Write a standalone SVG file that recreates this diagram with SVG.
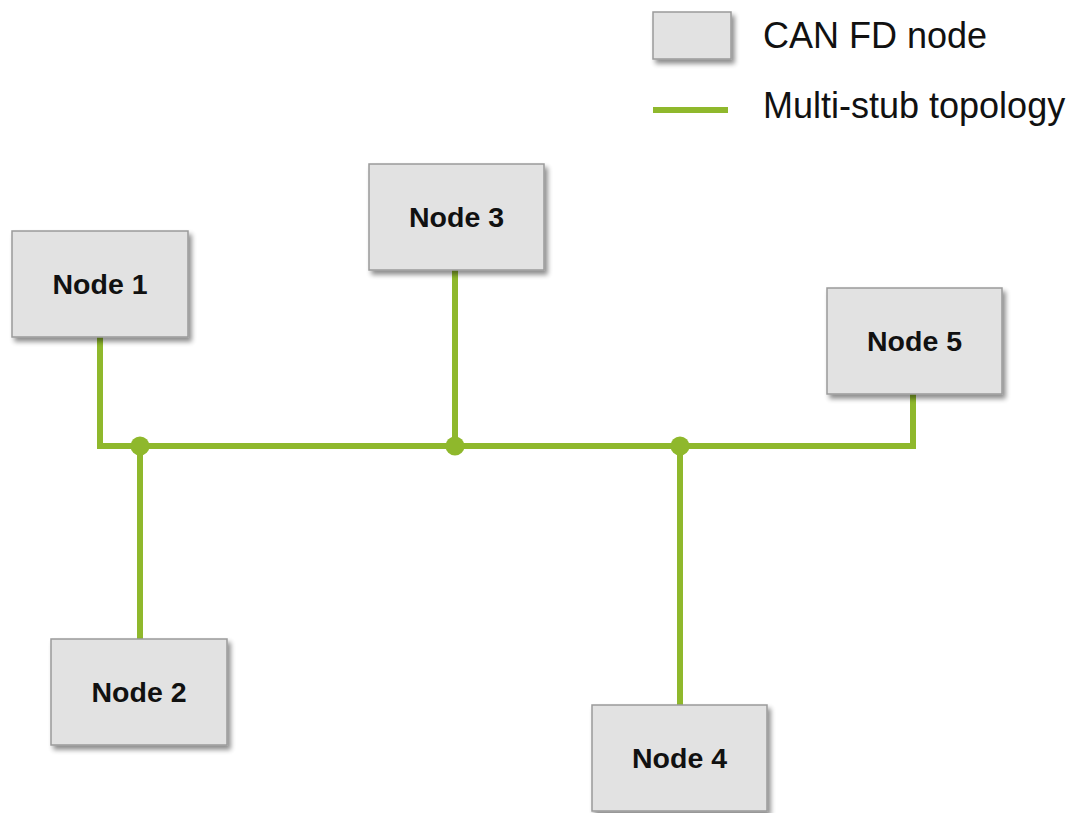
<svg xmlns="http://www.w3.org/2000/svg" width="1079" height="813" viewBox="0 0 1079 813">
  <style>
    .box { fill: #e2e2e2; stroke: #9a9a9a; stroke-width: 1.5; filter: url(#shadow); }
    .label { font-family: "Liberation Sans", Arial, sans-serif; font-weight: bold; font-size: 28.5px; fill: #111; text-anchor: middle; }
    .legend-text { font-family: "Liberation Sans", Arial, sans-serif; font-size: 36px; fill: #111; }
    .wire { fill: none; stroke: #8fb82c; stroke-width: 6; stroke-linejoin: miter; }
    .dot { fill: #8fb82c; }
  </style>
  <defs>
    <filter id="shadow" x="-10%" y="-10%" width="125%" height="130%">
      <feGaussianBlur in="SourceAlpha" stdDeviation="2.5"/>
      <feOffset dx="3" dy="4" result="off"/>
      <feComponentTransfer><feFuncA type="linear" slope="0.45"/></feComponentTransfer>
      <feMerge><feMergeNode/><feMergeNode in="SourceGraphic"/></feMerge>
    </filter>
  </defs>
  <rect width="1079" height="813" fill="#ffffff"/>

  <!-- legend -->
  <g id="legend">
    <rect class="box" x="653" y="12" width="78" height="47"/>
    <text class="legend-text" x="763" y="48">CAN FD node</text>
    <line x1="653" y1="110" x2="728" y2="110" stroke="#8fb82c" stroke-width="6"/>
    <text class="legend-text" x="763" y="118">Multi-stub topology</text>
  </g>

  <!-- bus and stubs -->
  <g id="connectors">
    <path class="wire" d="M100 337 V446 H913 V394"/>
    <line class="wire" x1="140" y1="446" x2="140" y2="639"/>
    <line class="wire" x1="455" y1="270" x2="455" y2="446"/>
    <line class="wire" x1="680" y1="446" x2="680" y2="705"/>
    <circle class="dot" cx="140" cy="446" r="9.5"/>
    <circle class="dot" cx="455" cy="446" r="9.5"/>
    <circle class="dot" cx="680" cy="446" r="9.5"/>
  </g>

  <g id="node1">
    <rect class="box" x="12" y="231" width="176" height="106"/>
    <text class="label" x="100" y="294">Node 1</text>
  </g>
  <g id="node2">
    <rect class="box" x="51" y="639" width="176" height="106"/>
    <text class="label" x="139" y="702">Node 2</text>
  </g>
  <g id="node3">
    <rect class="box" x="369" y="164" width="175" height="106"/>
    <text class="label" x="456.5" y="227">Node 3</text>
  </g>
  <g id="node4">
    <rect class="box" x="592" y="705" width="175" height="106"/>
    <text class="label" x="679.5" y="768">Node 4</text>
  </g>
  <g id="node5">
    <rect class="box" x="827" y="288" width="175" height="106"/>
    <text class="label" x="914.5" y="351">Node 5</text>
  </g>
</svg>
